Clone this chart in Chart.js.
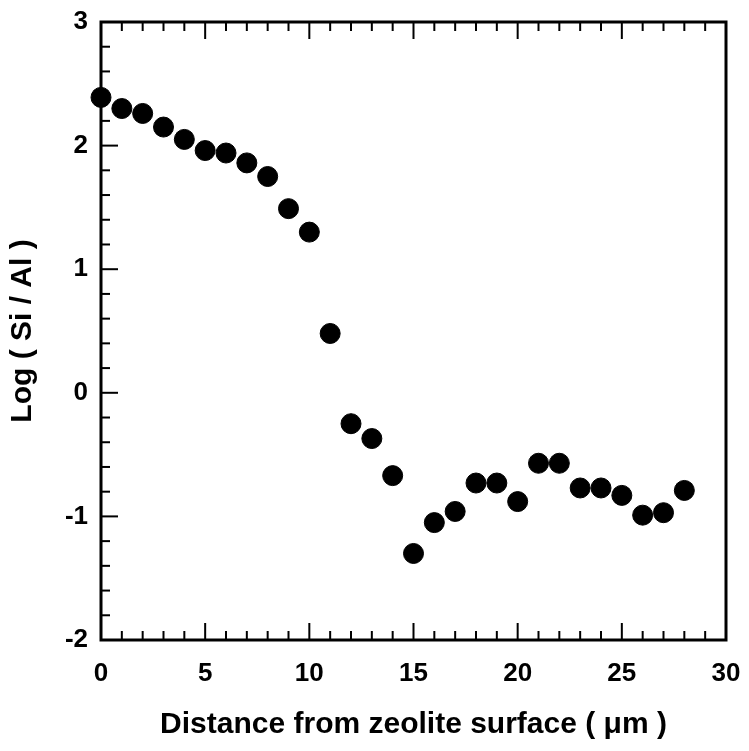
<!DOCTYPE html>
<html>
<head>
<meta charset="utf-8">
<script src="https://cdn.jsdelivr.net/npm/chart.js@4.4.1/dist/chart.umd.min.js"></script>
<style>
  html, body { margin: 0; padding: 0; background: #fff; }
  #wrap { width: 749px; height: 751px; position: relative; }
</style>
</head>
<body>
<div id="wrap"><canvas id="chart"></canvas></div>
<script>
// distance from surface (um) and log(Si/Al)
const distance = [0, 1, 2, 3, 4, 5, 6, 7, 8, 9, 10, 11, 12, 13, 14, 15, 16, 17, 18, 19, 20, 21, 22, 23, 24, 25, 26, 27, 28];
const logSiAl = [2.39, 2.30, 2.26, 2.15, 2.05, 1.96, 1.94, 1.86, 1.75, 1.49, 1.30, 0.48, -0.25, -0.37, -0.67, -1.30, -1.05, -0.96, -0.73, -0.73, -0.88, -0.57, -0.57, -0.77, -0.77, -0.83, -0.99, -0.97, -0.79];

const xRange = [0, 30];
const yRange = [-2, 3];

const points = distance.map((d, i) => ({ x: d, y: logSiAl[i] }));

const font = "'Liberation Sans', Arial, Helvetica, sans-serif";

// draws the box frame and the inward tick marks
const frameTicks = {
  id: "frameTicks",
  beforeDatasetsDraw(chart) {
    const { ctx, chartArea: a, scales } = chart;
    const xs = scales.x, ys = scales.y;
    ctx.save();
    ctx.strokeStyle = "#000";
    ctx.lineCap = "butt";

    // x ticks on bottom and top
    ctx.lineWidth = 2;
    for (let v = xRange[0] + 1; v < xRange[1]; v++) {
      const px = xs.getPixelForValue(v);
      const len = v % 5 === 0 ? 17 : 9;
      ctx.beginPath();
      ctx.moveTo(px, a.bottom);
      ctx.lineTo(px, a.bottom - len);
      ctx.moveTo(px, a.top);
      ctx.lineTo(px, a.top + len);
      ctx.stroke();
    }
    // y ticks on left
    for (let k = 1; k < (yRange[1] - yRange[0]) * 5; k++) {
      const v = yRange[0] + k * 0.2;
      const py = ys.getPixelForValue(v);
      const len = k % 5 === 0 ? 17 : 9;
      ctx.beginPath();
      ctx.moveTo(a.left, py);
      ctx.lineTo(a.left + len, py);
      ctx.stroke();
    }

    ctx.lineWidth = 3;
    ctx.strokeRect(a.left, a.top, a.right - a.left, a.bottom - a.top);
    ctx.restore();
  }
};

// keep the plot box where the figure has it (no extra room for label overflow)
function noOverflow(s) {
  s.paddingLeft = 0;
  s.paddingRight = 0;
  s.paddingTop = 0;
  s.paddingBottom = 0;
}

new Chart(document.getElementById("chart"), {
  type: "scatter",
  data: {
    datasets: [{
      data: points,
      backgroundColor: "#000",
      borderColor: "#000",
      pointRadius: 10,
      pointHoverRadius: 10,
      clip: false
    }]
  },
  options: {
    responsive: true,
    maintainAspectRatio: false,
    animation: false,
    layout: { padding: { top: 22, right: 23, bottom: 0, left: 0 } },
    plugins: {
      legend: { display: false },
      tooltip: { enabled: false }
    },
    scales: {
      x: {
        type: "linear",
        min: xRange[0],
        max: xRange[1],
        afterFit: (s) => { s.height = 111; noOverflow(s); },
        grid: { display: false, drawTicks: false },
        border: { display: false },
        ticks: {
          stepSize: 5,
          padding: 18,
          color: "#000",
          font: { family: font, size: 26, weight: "bold" }
        },
        title: {
          display: true,
          text: "Distance from zeolite surface ( \u03bcm )",
          color: "#000",
          padding: { top: 0, bottom: 8 },
          font: { family: font, size: 30, weight: "bold" }
        }
      },
      y: {
        type: "linear",
        min: yRange[0],
        max: yRange[1],
        afterFit: (s) => { s.width = 101; noOverflow(s); },
        grid: { display: false, drawTicks: false },
        border: { display: false },
        ticks: {
          stepSize: 1,
          padding: 13,
          color: "#000",
          font: { family: font, size: 26, weight: "bold" }
        },
        title: {
          display: true,
          text: "Log ( Si / Al )",
          color: "#000",
          padding: { top: 5, bottom: 0 },
          font: { family: font, size: 30, weight: "bold" }
        }
      }
    }
  },
  plugins: [frameTicks]
});
</script>
</body>
</html>
